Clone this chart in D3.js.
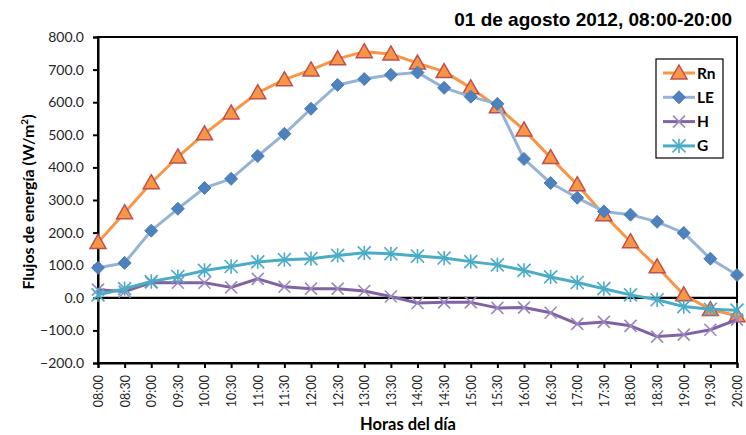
<!DOCTYPE html>
<html><head><meta charset="utf-8">
<script src="https://cdn.jsdelivr.net/npm/d3@7"></script>
<style>
html,body{margin:0;padding:0;background:#fff;}
svg{display:block;}
</style></head>
<body>
<svg id="chart" width="746" height="435"></svg>
<script>
const categories = ["08:00","08:30","09:00","09:30","10:00","10:30","11:00","11:30","12:00","12:30","13:00","13:30","14:00","14:30","15:00","15:30","16:00","16:30","17:00","17:30","18:00","18:30","19:00","19:30","20:00"];
const rn = [170,261,353,432,503,567,629,669,699,733,755,748,720,694,644,586,515,430,347,255,172,95,9,-36,-55];
const le = [92,107,206,273,337,365,435,503,580,653,671,684,691,644,617,595,426,352,307,265,255,233,199,120,70];
const h  = [25,19,47,46,46,32,58,34,28,28,21,4,-16,-14,-14,-31,-30,-46,-80,-74,-86,-119,-113,-98,-67];
const g  = [9,28,50,65,84,96,110,117,120,130,138,135,128,122,111,101,84,64,47,28,9,-6,-27,-35,-38];
const yTicks = [-200,-100,0,100,200,300,400,500,600,700,800];
const seriesNames = ["Rn","LE","H","G"];

const title = "01 de agosto 2012, 08:00-20:00";
const xTitle = "Horas del día";

const svg = d3.select("#chart");
const L = 98, R = 737, T = 37, B = 363;
const x = d3.scalePoint().domain(categories).range([L, R]);
const y = d3.scaleLinear().domain([-200, 800]).range([B, T]);

const series = [
  {name: seriesNames[0], values: rn, line: "#F79646", marker: "tri"},
  {name: seriesNames[1], values: le, line: "#95B3D7", marker: "dia"},
  {name: seriesNames[2], values: h,  line: "#8064A2", marker: "x"},
  {name: seriesNames[3], values: g,  line: "#4BACC6", marker: "star"}
];

// plot border
svg.append("rect").attr("x", L).attr("y", T).attr("width", R - L).attr("height", B - T)
  .attr("fill", "none").attr("stroke", "#000").attr("stroke-width", 2);

// y axis
const yAxis = svg.append("g").attr("transform", `translate(${L},0)`)
  .call(d3.axisLeft(y).tickValues(yTicks).tickFormat(d3.format(".1f")).tickSize(5).tickPadding(9));
yAxis.select(".domain").attr("stroke", "#000").attr("stroke-width", 2);
yAxis.selectAll(".tick line").attr("stroke", "#000").attr("stroke-width", 2);
yAxis.selectAll(".tick text").attr("font-family", "Lato, 'Open Sans', sans-serif").attr("font-size", 14).attr("fill", "#262626");

// x axis (bottom)
const xAxis = svg.append("g").attr("transform", `translate(0,${B})`)
  .call(d3.axisBottom(x).tickSize(5).tickPadding(0));
xAxis.select(".domain").attr("stroke", "#000").attr("stroke-width", 2);
xAxis.selectAll(".tick line").attr("stroke", "#000").attr("stroke-width", 2);
xAxis.selectAll(".tick text")
  .attr("font-family", "Lato, 'Open Sans', sans-serif").attr("font-size", 12.5).attr("fill", "#262626")
  .attr("text-anchor", "end").attr("transform", "rotate(-90)")
  .attr("x", -12).attr("y", 0).attr("dy", "0.35em");

// zero line
svg.append("line").attr("x1", L).attr("x2", R).attr("y1", y(0)).attr("y2", y(0))
  .attr("stroke", "#000").attr("stroke-width", 2.2);

function drawMarker(sel, type, cx, cy) {
  if (type === "tri") {
    const s = 8;
    sel.append("path").attr("d", `M${cx},${cy - s}L${cx + s},${cy + s * 0.75}L${cx - s},${cy + s * 0.75}Z`)
      .attr("fill", "#F79646").attr("stroke", "#C0504D").attr("stroke-width", 1.5);
  } else if (type === "dia") {
    const s = 6.5;
    sel.append("path").attr("d", `M${cx},${cy - s}L${cx + s},${cy}L${cx},${cy + s}L${cx - s},${cy}Z`)
      .attr("fill", "#4F81BD").attr("stroke", "#4A7EBB").attr("stroke-width", 1);
  } else if (type === "x") {
    const s = 6;
    sel.append("path").attr("d", `M${cx - s},${cy - s}L${cx + s},${cy + s}M${cx - s},${cy + s}L${cx + s},${cy - s}`)
      .attr("stroke", "#9C88BE").attr("stroke-width", 1.6).attr("fill", "none");
  } else if (type === "star") {
    const s = 6.5;
    sel.append("path").attr("d", `M${cx - s},${cy - s}L${cx + s},${cy + s}M${cx - s},${cy + s}L${cx + s},${cy - s}M${cx},${cy - s * 1.1}L${cx},${cy + s * 1.1}`)
      .attr("stroke", "#4BACC6").attr("stroke-width", 1.6).attr("fill", "none");
  }
}

const lineGen = d3.line().x((d, i) => x(categories[i])).y(d => y(d));

series.forEach(s => {
  const g0 = svg.append("g");
  g0.append("path").attr("d", lineGen(s.values)).attr("fill", "none")
    .attr("stroke", s.line).attr("stroke-width", 3).attr("stroke-linejoin", "round");
  s.values.forEach((v, i) => drawMarker(g0, s.marker, x(categories[i]), y(v)));
});

// legend
const lg = svg.append("g");
lg.append("rect").attr("x", 656).attr("y", 59).attr("width", 67).attr("height", 99)
  .attr("fill", "#fff").attr("stroke", "#000").attr("stroke-width", 1.2);
series.forEach((s, i) => {
  const cy = 73 + i * 24.3;
  lg.append("line").attr("x1", 663).attr("x2", 695).attr("y1", cy).attr("y2", cy)
    .attr("stroke", s.line).attr("stroke-width", 3);
  drawMarker(lg, s.marker, 679, cy);
  lg.append("text").attr("x", 697).attr("y", cy).attr("dy", "0.36em")
    .attr("font-family", "Lato, 'Open Sans', sans-serif").attr("font-weight", "bold").attr("font-size", 15.5)
    .attr("fill", "#000").text(s.name);
});

// title
svg.append("text").attr("x", 732).attr("y", 26).attr("text-anchor", "end")
  .attr("font-family", "'Liberation Sans', Arial, sans-serif").attr("font-weight", "bold").attr("font-size", 19)
  .attr("fill", "#000").text(title);

// x title
svg.append("text").attr("x", 408).attr("y", 430).attr("text-anchor", "middle")
  .attr("font-family", "Lato, 'Open Sans', sans-serif").attr("font-weight", "bold").attr("font-size", 16.5)
  .attr("fill", "#000").text(xTitle);

// y title
const yt = svg.append("text").attr("transform", "translate(34,202) rotate(-90)").attr("text-anchor", "middle")
  .attr("font-family", "Lato, 'Open Sans', sans-serif").attr("font-weight", "bold").attr("font-size", 16)
  .attr("fill", "#000");
yt.append("tspan").text("Flujos de energía (W/m");
yt.append("tspan").attr("baseline-shift", "super").attr("font-size", 10).text("2");
yt.append("tspan").text(")");
</script>
</body></html>
